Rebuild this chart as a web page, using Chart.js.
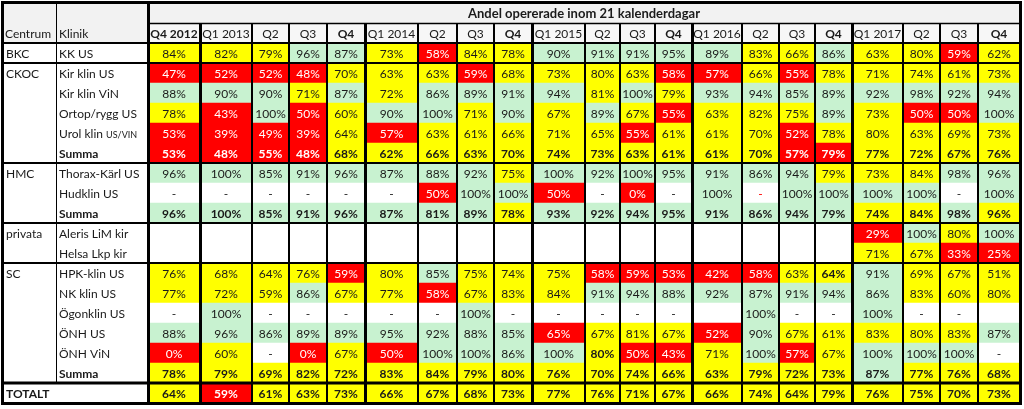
<!DOCTYPE html>
<html lang="sv">
<head>
<meta charset="utf-8">
<title>Andel opererade inom 21 kalenderdagar</title>
<script src="https://cdn.jsdelivr.net/npm/chart.js@4.4.1/dist/chart.umd.min.js"></script>
<style>
  html, body { margin: 0; padding: 0; background: #fff; }
  #wrap { width: 1024px; height: 409px; }
</style>
</head>
<body>
<div id="wrap"><canvas id="tableChart"></canvas></div>
<script>
const title = "Andel opererade inom 21 kalenderdagar";

const quarters = ["Q4 2012", "Q1 2013", "Q2", "Q3", "Q4", "Q1 2014", "Q2", "Q3", "Q4",
  "Q1 2015", "Q2", "Q3", "Q4", "Q1 2016", "Q2", "Q3", "Q4", "Q1 2017", "Q2", "Q3", "Q4"];

const centrum = ["BKC", "CKOC", "", "", "", "", "HMC", "", "", "privata", "", "SC", "", "", "", "", "", "TOTALT"];
const klinik = ["KK US", "Kir klin US", "Kir klin ViN", "Ortop/rygg US", "Urol klin US/ViN", "Summa",
  "Thorax-Kärl US", "Hudklin US", "Summa", "Aleris LiM kir", "Helsa Lkp kir",
  "HPK-klin US", "NK klin US", "Ögonklin US", "ÖNH US", "ÖNH ViN", "Summa", ""];

// percent per quarter, "-" = no operations, null = empty cell
const kkUs       = [84, 82, 79, 96, 87, 73, 58, 84, 78, 90, 91, 91, 95, 89, 83, 66, 86, 63, 80, 59, 62];
const kirKlinUs  = [47, 52, 52, 48, 70, 63, 63, 59, 68, 73, 80, 63, 58, 57, 66, 55, 78, 71, 74, 61, 73];
const kirKlinVin = [88, 90, 90, 71, 87, 72, 86, 89, 91, 94, 81, 100, 79, 93, 94, 85, 89, 92, 98, 92, 94];
const ortopUs    = [78, 43, 100, 50, 60, 90, 100, 71, 90, 67, 89, 67, 55, 63, 82, 75, 89, 73, 50, 50, 100];
const urolKlin   = [53, 39, 49, 39, 64, 57, 63, 61, 66, 71, 65, 55, 61, 61, 70, 52, 78, 80, 63, 69, 73];
const ckocSumma  = [53, 48, 55, 48, 68, 62, 66, 63, 70, 74, 73, 63, 61, 61, 70, 57, 79, 77, 72, 67, 76];
const thoraxUs   = [96, 100, 85, 91, 96, 87, 88, 92, 75, 100, 92, 100, 95, 91, 86, 94, 79, 73, 84, 98, 96];
const hudklinUs  = ["-", "-", "-", "-", "-", "-", 50, 100, 100, 50, "-", 0, "-", 100, "-", 100, 100, 100, 100, "-", 100];
const hmcSumma   = [96, 100, 85, 91, 96, 87, 81, 89, 78, 93, 92, 94, 95, 91, 86, 94, 79, 74, 84, 98, 96];
const alerisLim  = [null, null, null, null, null, null, null, null, null, null, null, null, null, null, null, null, null, 29, 100, 80, 100];
const helsaLkp   = [null, null, null, null, null, null, null, null, null, null, null, null, null, null, null, null, null, 71, 67, 33, 25];
const hpkUs      = [76, 68, 64, 76, 59, 80, 85, 75, 74, 75, 58, 59, 53, 42, 58, 63, 64, 91, 69, 67, 51];
const nkUs       = [77, 72, 59, 86, 67, 77, 58, 67, 83, 84, 91, 94, 88, 92, 87, 91, 94, 86, 83, 60, 80];
const ogonUs     = ["-", 100, "-", "-", "-", "-", "-", 100, "-", "-", "-", "-", "-", null, 100, "-", "-", 100, "-", "-", null];
const onhUs      = [88, 96, 86, 89, 89, 95, 92, 88, 85, 65, 67, 81, 67, 52, 90, 67, 61, 83, 80, 83, 87];
const onhVin     = [0, 60, "-", 0, 67, 50, 100, 100, 86, 100, 80, 50, 43, 71, 100, 57, 67, 100, 100, 100, "-"];
const scSumma    = [78, 79, 69, 82, 72, 83, 84, 79, 80, 76, 70, 74, 66, 63, 79, 72, 73, 87, 77, 76, 68];
const totalt     = [64, 59, 61, 63, 73, 66, 67, 68, 73, 77, 76, 71, 67, 66, 74, 64, 79, 76, 75, 70, 73];

const values = [kkUs, kirKlinUs, kirKlinVin, ortopUs, urolKlin, ckocSumma, thoraxUs, hudklinUs, hmcSumma,
  alerisLim, helsaLkp, hpkUs, nkUs, ogonUs, onhUs, onhVin, scSumma, totalt];

// r = red, y = yellow, g = green, w = no colour
const status = [
  "yyygg" + "yryy" + "gggg" + "gyyg" + "yyry",
  "rrrry" + "yyry" + "yyyr" + "ryry" + "yyyy",
  "gggyg" + "yggg" + "gygy" + "gggg" + "gggg",
  "yrgry" + "ggyg" + "ygyr" + "yyyg" + "yrrg",
  "rrrry" + "ryyy" + "yyry" + "yyry" + "yyyy",
  "rrrry" + "yyyy" + "yyyy" + "yyrr" + "yyyy",
  "ggggg" + "gggy" + "gggg" + "gggy" + "yygg",
  "wwwww" + "wrgg" + "rwrw" + "grgg" + "ggwg",
  "ggggg" + "gggy" + "gggg" + "gggg" + "yygy",
  "wwwww" + "wwww" + "wwww" + "wwww" + "rgyg",
  "wwwww" + "wwww" + "wwww" + "wwww" + "yyrr",
  "yyyyr" + "ygyy" + "yrrr" + "rryy" + "gyyy",
  "yyygy" + "yryy" + "yggg" + "gggg" + "gyyy",
  "wgwww" + "wwgw" + "wwww" + "wgww" + "gwww",
  "ggggg" + "gggg" + "ryyy" + "rgyy" + "yyyg",
  "rywry" + "rggg" + "gyrr" + "ygry" + "gggw",
  "yyyyy" + "yyyy" + "yyyy" + "yyyy" + "gyyy",
  "yryyy" + "yyyy" + "yyyy" + "yyyy" + "yyyy"
];

const summaryRows = [5, 8, 16, 17];
const boldCells = ["11:16", "15:10"];
const groupEnds = [0, 5, 8, 10, 16];

// layout
const colWidths = [52, 52, 37, 38, 38, 53, 39, 37, 38, 53, 35, 35, 37, 50, 37, 36, 37, 51, 37, 38, 42];
const edges = [0];
colWidths.forEach(w => edges.push(edges[edges.length - 1] + w));
const tableLeft = 3;
const klinikLeft = 56;
const font = "Lato, 'Open Sans', sans-serif";
const size = "12px ";
const fills = { r: "#ff0000", y: "#ffff00", g: "#c8f2d0", w: "#ffffff" };

function cellFill(r, c) {
  const v = values[r][c];
  if (typeof v !== "number") return fills.w;
  return fills[status[r][c]];
}

function line(ctx, x1, y1, x2, y2, w) {
  ctx.lineWidth = w;
  ctx.beginPath();
  ctx.moveTo(x1, y1);
  ctx.lineTo(x2, y2);
  ctx.stroke();
}

const tablePlugin = {
  id: "tableGrid",
  beforeDatasetsDraw(chart) {
    const { ctx, chartArea: a, scales: { y } } = chart;
    const rowH = y.getPixelForValue(1) - y.getPixelForValue(0);
    ctx.save();
    ctx.fillStyle = "#f2f2f2";
    ctx.fillRect(tableLeft, a.top - 2 * rowH, a.right - tableLeft, 2 * rowH);
    ctx.fillStyle = "#f7f7f7";
    ctx.fillRect(a.left, a.top - rowH, a.right - a.left, rowH);
    ctx.restore();
  },
  afterDatasetsDraw(chart) {
    const { ctx, chartArea: a, scales: { x, y } } = chart;
    const rowH = y.getPixelForValue(1) - y.getPixelForValue(0);
    const top = a.top - 2 * rowH;
    const rowBottom = r => y.getPixelForValue(r) + rowH / 2;
    ctx.save();
    ctx.textBaseline = "middle";

    // cell values
    ctx.textAlign = "center";
    quarters.forEach((q, c) => {
      const meta = chart.getDatasetMeta(c);
      values.forEach((row, r) => {
        const v = row[c];
        if (v === null) return;
        const el = meta.data[r];
        const bold = summaryRows.includes(r) || boldCells.includes(r + ":" + c);
        ctx.font = (bold ? "bold " : "") + size + font;
        if (status[r][c] === "r") ctx.fillStyle = typeof v === "number" ? "#ffffff" : "#ff0000";
        else ctx.fillStyle = "#1a1a1a";
        ctx.fillText(typeof v === "number" ? v + "%" : v, (el.x + el.base) / 2, el.y + 1);
      });
    });

    // row labels
    ctx.textAlign = "left";
    ctx.fillStyle = "#1a1a1a";
    klinik.forEach((k, r) => {
      const cy = y.getPixelForValue(r) + 1;
      if (centrum[r]) {
        ctx.font = (r === 17 ? "bold " : "") + size + font;
        ctx.fillText(centrum[r], tableLeft + 3, cy);
      }
      if (!k) return;
      ctx.font = (summaryRows.includes(r) ? "bold " : "") + size + font;
      if (k.endsWith("US/ViN")) {
        const head = k.slice(0, -6);
        ctx.fillText(head, klinikLeft + 3, cy);
        const w = ctx.measureText(head).width;
        ctx.font = "9px " + font;
        ctx.fillText("US/VIN", klinikLeft + 3 + w, cy + 1);
      } else {
        ctx.fillText(k, klinikLeft + 3, cy);
      }
    });

    // header
    ctx.font = size + font;
    ctx.fillText("Centrum", tableLeft + 2, top + rowH * 1.5 + 1);
    ctx.fillText("Klinik", klinikLeft + 3, top + rowH * 1.5 + 1);
    ctx.textAlign = "center";
    ctx.font = "bold 13px " + font;
    ctx.fillText(title, (a.left + a.right) / 2, top + rowH / 2 + 1);
    quarters.forEach((q, c) => {
      const cx = (x.getPixelForValue(edges[c]) + x.getPixelForValue(edges[c + 1])) / 2;
      ctx.font = (c === 0 || q === "Q4" ? "bold " : "") + size + font;
      ctx.fillText(q, cx, top + rowH * 1.5 + 1);
    });

    // grid lines
    ctx.strokeStyle = "#000";
    line(ctx, klinikLeft + 0.5, top, klinikLeft + 0.5, rowBottom(16), 1);
    for (let c = 1; c < quarters.length; c++) {
      const xe = Math.round(x.getPixelForValue(edges[c]));
      const thick = quarters[c].length > 2;
      line(ctx, xe + (thick ? 0.5 : 0), top + rowH, xe + (thick ? 0.5 : 0), a.bottom, thick ? 3 : 2);
    }
    line(ctx, a.left, top + rowH + 0.5, a.right, top + rowH + 0.5, 1.5);
    line(ctx, tableLeft, a.top, a.right, a.top, 2);
    groupEnds.forEach(r => {
      const yy = Math.round(rowBottom(r));
      line(ctx, tableLeft, yy, a.right, yy, r === 16 ? 3 : 2);
    });
    line(ctx, a.left + 0.5, top, a.left + 0.5, a.bottom, 3);
    ctx.lineWidth = 3;
    ctx.strokeRect(tableLeft - 0.5, top - 0.5, a.right - tableLeft + 1, a.bottom - top + 1);
    ctx.restore();
  }
};

const ctx = document.getElementById("tableChart").getContext("2d");
new Chart(ctx, {
  type: "bar",
  data: {
    labels: klinik,
    datasets: quarters.map((q, c) => ({
      label: q,
      data: values.map(() => [edges[c], edges[c + 1]]),
      backgroundColor: values.map((row, r) => cellFill(r, c)),
      borderWidth: 0,
      barPercentage: 1,
      categoryPercentage: 1,
      grouped: false
    }))
  },
  options: {
    indexAxis: "y",
    responsive: true,
    maintainAspectRatio: false,
    animation: false,
    devicePixelRatio: 1,
    layout: { padding: { left: 148, right: 4, top: 43, bottom: 6 } },
    plugins: { legend: { display: false }, tooltip: { enabled: false } },
    scales: {
      x: { type: "linear", min: 0, max: edges[edges.length - 1], display: false },
      y: { type: "category", display: false, offset: true }
    }
  },
  plugins: [tablePlugin]
});
</script>
</body>
</html>
